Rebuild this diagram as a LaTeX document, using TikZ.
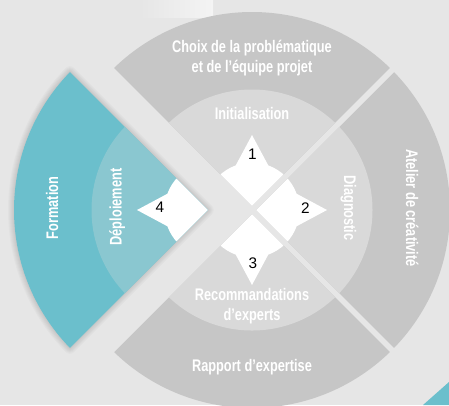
\documentclass[tikz,border=0pt]{standalone}
\usepackage{fontspec}
\setmainfont{Liberation Sans}
\newfontfamily\labfont{Liberation Sans}[FakeStretch=0.76]
\definecolor{bg}{HTML}{E6E6E6}
\definecolor{ring}{HTML}{C6C6C6}
\definecolor{core}{HTML}{D9D9D9}
\definecolor{tealO}{HTML}{6BBFCC}
\definecolor{tealI}{HTML}{8AC7D0}
\definecolor{hilite}{HTML}{F4F4F4}
\tikzset{
  lbl/.style={text=white, font=\labfont\bfseries\fontsize{12.6}{15}\selectfont, inner sep=0pt, align=center},
  num/.style={text=black, font=\fontsize{11.5}{13}\selectfont, inner sep=0pt},
}
\newcommand\quadclip[1]{\clip (#1:4.24) -- ++({#1+45}:400) -- ++({#1-90}:565.69) -- cycle;}
\newcommand\starfill{\fill[white] (-20:47.5) -- (0:75) -- (20:47.5)
  arc[start angle=20,end angle=70,radius=47.5] -- (90:75) -- (110:47.5)
  arc[start angle=110,end angle=160,radius=47.5] -- (180:75) -- (200:47.5)
  arc[start angle=200,end angle=250,radius=47.5] -- (270:75) -- (290:47.5)
  arc[start angle=290,end angle=340,radius=47.5] -- cycle;}
\newcommand\quadrant[4]{%
  \begin{scope}[shift={(#4,0)}]
    \begin{scope}
      \quadclip{#1}
      \fill[#2] (0,0) circle[radius=198];
      \fill[#3] (0,0) circle[radius=120.5];
      \starfill
    \end{scope}
  \end{scope}}
\begin{document}
\begin{tikzpicture}[x=0.75pt,y=0.75pt]
\fill[bg] (0,0) rectangle (449,-405);
\useasboundingbox (0,0) rectangle (449,-405);
\shade[left color=bg, right color=hilite] (140,0) rectangle (213,-17);
\fill[tealO] (423,-405) -- (449,-382) -- (449,-405) -- cycle;
\begin{scope}[shift={(252,-210)}]
  % soft shadow of the teal sector
  \begin{scope}[shift={(-40,0)}]
    \foreach \w in {2,4,6,8,10,12}
      \draw[black, opacity=0.018, line width=\w*0.75pt, line join=round]
        (-4.24,0) -- (135.87:198) arc[start angle=135.87,end angle=224.13,radius=198] -- cycle;
  \end{scope}
  \quadrant{90}{ring}{core}{0}
  \quadrant{0}{ring}{core}{0}
  \quadrant{270}{ring}{core}{0}
  \quadrant{180}{tealO}{tealI}{-40}
\end{scope}
% labels (anchor=base sits on the last line)
\node[lbl, anchor=base] (choix) at (252,-72.7) {Choix de la problématique\\et de l’équipe projet};
\node[lbl, anchor=base] (init) at (252,-119.3) {Initialisation};
\node[lbl, anchor=base] (reco) at (252,-320.7) {Recommandations\\d’experts};
\node[lbl, anchor=base] (rapp) at (252,-371.7) {Rapport d’expertise};
\node[lbl, anchor=base, rotate=-90] (diag) at (344,-208) {Diagnostic};
\node[lbl, anchor=base, rotate=-90] (atel) at (406,-208) {Atelier de créativité};
\node[lbl, anchor=base, rotate=90] (form) at (58,-208) {Formation};
\node[lbl, anchor=base, rotate=90] (depl) at (121.5,-207) {Déploiement};
% numbers
\node[num] (n1) at (252.5,-154.5) {1};
\node[num] (n2) at (305.3,-208) {2};
\node[num] (n3) at (253,-263) {3};
\node[num] (n4) at (160,-207) {4};
\end{tikzpicture}
\end{document}
